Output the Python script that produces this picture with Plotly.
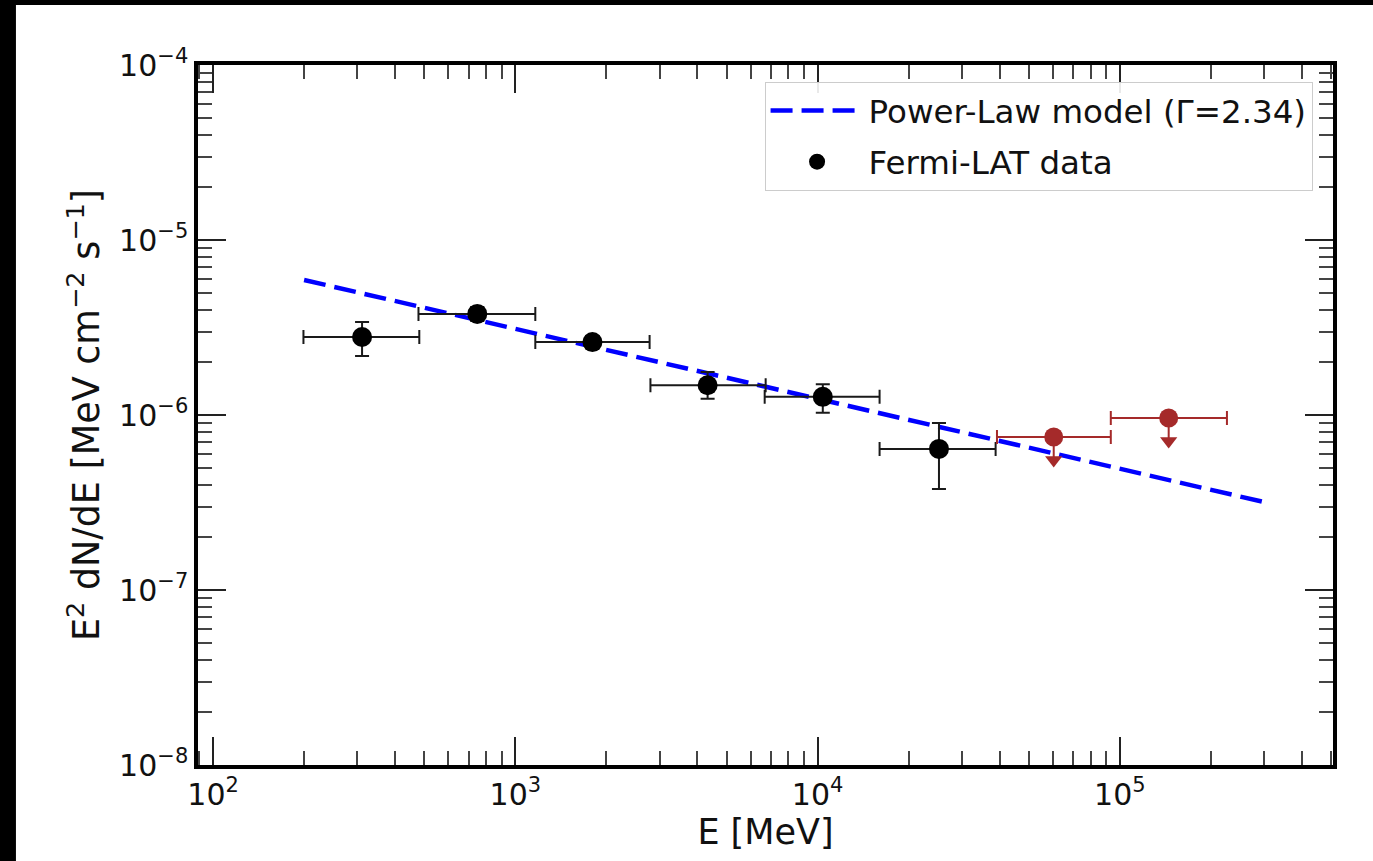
import numpy as np
import plotly.graph_objects as go

# ---- data ----
energy = [311, 748, 1799, 4325, 10400, 25200]            # MeV (bin centres)
energy_lo = [199, 478, 1164, 2798, 6680, 16030]           # bin low edges
energy_hi = [481, 1164, 2780, 6730, 16030, 38800]         # bin high edges
flux = [2.79e-6, 3.78e-6, 2.61e-6, 1.48e-6, 1.27e-6, 6.40e-7]
flux_hi = [3.40e-6, 4.14e-6, 2.83e-6, 1.76e-6, 1.50e-6, 9.00e-7]
flux_lo = [2.17e-6, 3.45e-6, 2.41e-6, 1.24e-6, 1.03e-6, 3.78e-7]

ul_energy = [60400, 145000]
ul_energy_lo = [39200, 93300]
ul_energy_hi = [93300, 226000]
ul_flux = [7.48e-7, 9.62e-7]

model_energy = [200, 3.0e5]
model_flux = [5.91e-6, 3.18e-7]

x_ticks = [1e2, 1e3, 1e4, 1e5]
x_ticktext = ["10<sup>2</sup>", "10<sup>3</sup>", "10<sup>4</sup>", "10<sup>5</sup>"]
y_ticks = [1e-8, 1e-7, 1e-6, 1e-5, 1e-4]
y_ticktext = ["10<sup>\u22128</sup>", "10<sup>\u22127</sup>", "10<sup>\u22126</sup>",
              "10<sup>\u22125</sup>", "10<sup>\u22124</sup>"]

x_title = "E [MeV]"
y_title = "E<sup>2</sup> dN/dE [MeV cm<sup>\u22122</sup> s<sup>\u22121</sup>]"

# ---- styling ----
FONT = "DejaVu Sans"
RED = "#a52a2a"
ARROW = 0.739  # upper-limit arrow end as fraction of the limit value

e = np.array(energy); f = np.array(flux)
ue = np.array(ul_energy); uf = np.array(ul_flux)

fig = go.Figure()

fig.add_trace(go.Scatter(
    x=model_energy, y=model_flux, mode="lines",
    line=dict(color="blue", width=4.5, dash="22px,9px"),
    name="Power-Law model (\u0393=2.34)", legendgroup="a"))

fig.add_trace(go.Scatter(
    x=energy, y=flux, mode="markers",
    marker=dict(color="black", size=20),
    error_x=dict(type="data", symmetric=False,
                 array=np.array(energy_hi) - e, arrayminus=e - np.array(energy_lo),
                 color="#1a1a1a", thickness=2, width=7),
    error_y=dict(type="data", symmetric=False,
                 array=np.array(flux_hi) - f, arrayminus=f - np.array(flux_lo),
                 color="#1a1a1a", thickness=2, width=7),
    name="Fermi-LAT data", legendgroup="b"))

fig.add_trace(go.Scatter(
    x=ul_energy, y=ul_flux, mode="markers",
    marker=dict(color=RED, size=19),
    error_x=dict(type="data", symmetric=False,
                 array=np.array(ul_energy_hi) - ue, arrayminus=ue - np.array(ul_energy_lo),
                 color=RED, thickness=2, width=7),
    error_y=dict(type="data", symmetric=False,
                 array=[0] * len(ul_flux), arrayminus=uf * (1 - ARROW),
                 color=RED, thickness=2, width=0),
    showlegend=False))

fig.add_trace(go.Scatter(
    x=ul_energy, y=uf * ARROW, mode="markers",
    marker=dict(color=RED, size=15, symbol="triangle-down"),
    showlegend=False, hoverinfo="skip"))

axis_common = dict(
    type="log", showgrid=False, zeroline=False,
    showline=True, linecolor="black", linewidth=3.5, mirror="allticks",
    ticks="inside", ticklen=28, tickwidth=1.5, tickcolor="#222",
    tickfont=dict(family=FONT, size=30, color="#111"),
    minor=dict(ticks="inside", ticklen=14, tickwidth=1.5, tickcolor="#444", dtick="D1"),
)

fig.update_xaxes(**axis_common, range=[1.95, 5.705],
                 tickvals=x_ticks, ticktext=x_ticktext,
                 title=dict(text=x_title, font=dict(family=FONT, size=35, color="#111"),
                            standoff=2))
fig.update_yaxes(**axis_common, range=[-8, -4],
                 tickvals=y_ticks, ticktext=y_ticktext)

fig.add_annotation(
    text=y_title, textangle=-90, showarrow=False,
    xref="paper", yref="paper", x=-0.1004, y=0.5,
    xanchor="center", yanchor="middle",
    font=dict(family=FONT, size=36.5, color="#111"))

fig.update_layout(
    width=1373, height=861,
    margin=dict(l=198, r=40, t=65, b=96),
    paper_bgcolor="black", plot_bgcolor="white",
    font=dict(family=FONT, color="#111"),
    showlegend=True,
    legend=dict(x=0.982, y=0.976, xanchor="right", yanchor="top",
                bgcolor="rgba(255,255,255,0.9)", bordercolor="#cccccc", borderwidth=1,
                font=dict(family=FONT, size=32.5, color="#111"),
                traceorder="grouped", tracegroupgap=6, itemwidth=93),
    shapes=[dict(type="rect", xref="paper", yref="paper",
                 x0=-0.1604, x1=1.2, y0=-0.3, y1=1.0857,
                 fillcolor="white", line=dict(width=0), layer="below")],
)

fig.write_html(
    "out.html",
    config={"displayModeBar": False},
    post_script="document.body.style.margin='0';document.body.style.padding='0';"
                "document.body.style.overflow='hidden';",
)
